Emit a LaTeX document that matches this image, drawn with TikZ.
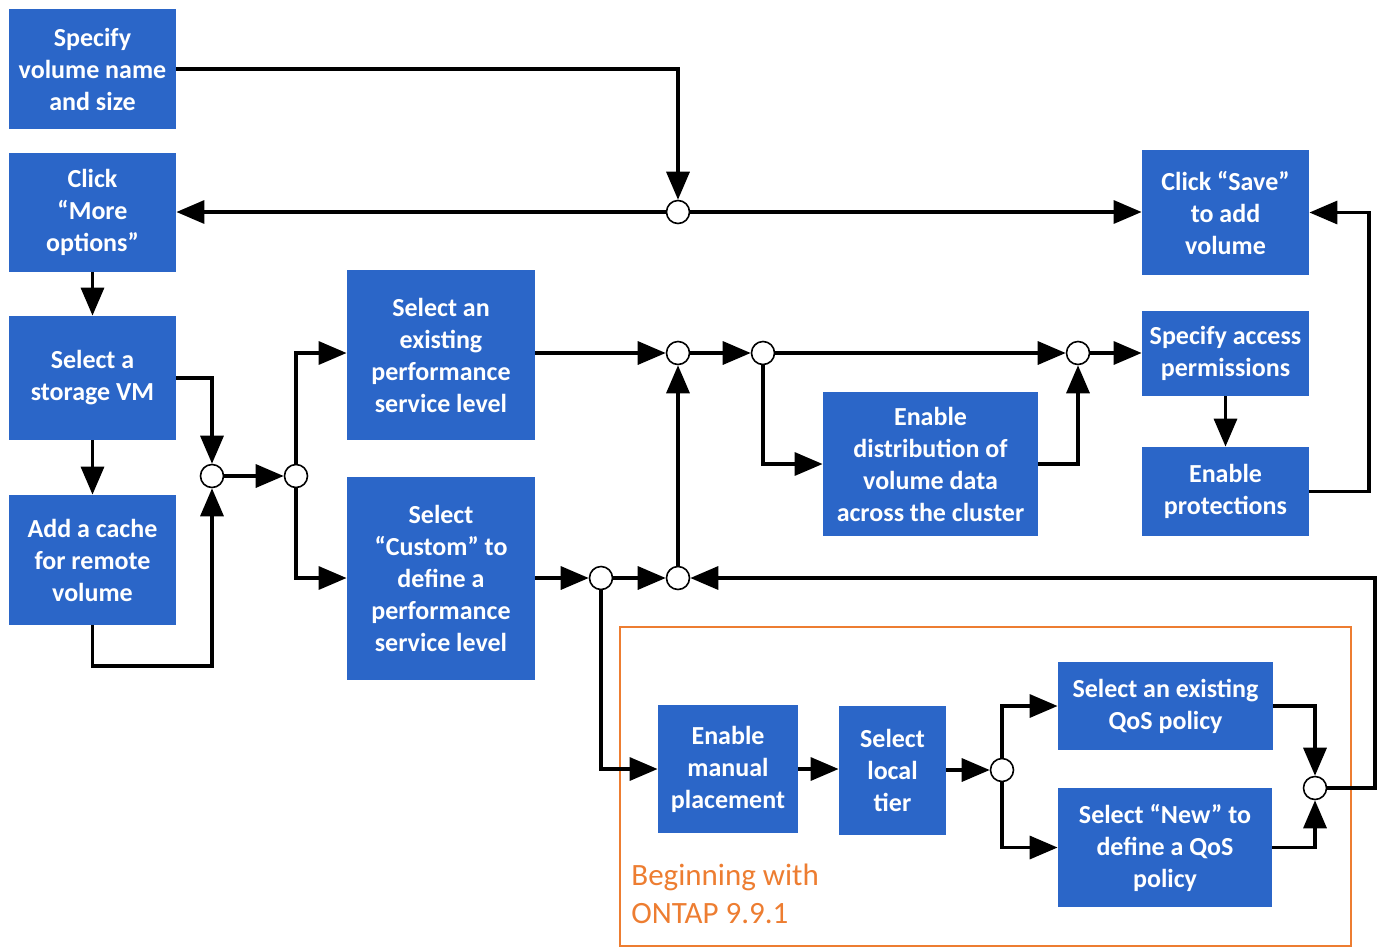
\documentclass[tikz,border=0pt]{standalone}
\usepackage{fontspec}
\setmainfont{Carlito}
\usetikzlibrary{arrows.meta}
\definecolor{boxblue}{RGB}{43,102,200}
\definecolor{ornge}{RGB}{237,125,49}
\tikzset{
  box/.style={fill=boxblue, draw=none, inner sep=0pt, text=white, align=center,
    font=\fontsize{13pt}{16pt}\selectfont\bfseries},
  jn/.style={circle, draw=black, line width=0.8pt, fill=white, minimum size=11.5pt, inner sep=0pt},
  conn/.style={line width=1.7pt, draw=black},
  arr/.style={conn, -{Triangle[length=14pt,width=11.5pt]}},
}
\begin{document}
\begin{tikzpicture}[x=0.5pt,y=-0.5pt]
\useasboundingbox (0,0) rectangle (1380,949);
% orange frame
\draw[ornge, line width=1.1pt] (620,627) rectangle (1351,946);
\node[text=ornge, font=\fontsize{15.5pt}{19pt}\selectfont, align=left, anchor=north west, inner sep=0pt]
  (ver) at (631,864) {Beginning with\\ONTAP 9.9.1};
% boxes
\node[box, minimum width=83.5pt, minimum height=60pt]   (B1)  at (92.5,69)    {Specify\\volume name\\and size};
\node[box, minimum width=83.5pt, minimum height=59.5pt] (B2)  at (92.5,212.5) {Click\\“More\\options”};
\node[box, minimum width=83.5pt, minimum height=62pt]   (B3)  at (92.5,378)   {Select a\\storage VM};
\node[box, minimum width=83.5pt, minimum height=65pt]   (B4)  at (92.5,560)   {Add a cache\\for remote\\volume};
\node[box, minimum width=94pt,   minimum height=85pt]   (B5)  at (441,355)    {Select an\\existing\\performance\\service level};
\node[box, minimum width=94pt,   minimum height=101.5pt](B6)  at (441,578.5)  {Select\\“Custom” to\\define a\\performance\\service level};
\node[box, minimum width=83.5pt, minimum height=62.5pt] (B7)  at (1225.5,212.5) {Click “Save”\\to add\\volume};
\node[box, minimum width=83.5pt, minimum height=42.5pt] (B8)  at (1225.5,353.5) {Specify access\\permissions};
\node[box, minimum width=83.5pt, minimum height=44.5pt] (B9)  at (1225.5,491.5) {Enable\\protections};
\node[box, minimum width=107.5pt,minimum height=72pt]   (B10) at (930.5,464)  {Enable\\distribution of\\volume data\\across the cluster};
\node[box, minimum width=70pt,   minimum height=64pt]   (B11) at (728,769)    {Enable\\manual\\placement};
\node[box, minimum width=53.5pt, minimum height=64.5pt] (B12) at (892.5,770.5) {Select\\local\\tier};
\node[box, minimum width=107.5pt,minimum height=44pt]   (B13) at (1165.5,706) {Select an existing\\QoS policy};
\node[box, minimum width=107pt,  minimum height=59.5pt] (B14) at (1165,847.5) {Select “New” to\\define a QoS\\policy};
% junctions
\node[jn] (J1)  at (678,212) {};
\node[jn] (J2)  at (212,476) {};
\node[jn] (J3)  at (296,476) {};
\node[jn] (J4)  at (678,353) {};
\node[jn] (J5)  at (763,353) {};
\node[jn] (J6)  at (1078,353) {};
\node[jn] (J7)  at (601,578) {};
\node[jn] (J8)  at (678,578) {};
\node[jn] (J9)  at (1002,770) {};
\node[jn] (J10) at (1315,788) {};
\coordinate (R1) at (1375,0);
\coordinate (R2) at (1369,0);
\coordinate (L1) at (0,666);
% connectors
\draw[arr] (B1.east) -| (J1);
\draw[arr] (J1) -- (J1 -| B2.east);
\draw[arr] (J1) -- (J1 -| B7.west);
\draw[arr] (B2.south) -- (B3.north);
\draw[arr] (B3.south) -- (B4.north);
\draw[arr] (B3.east) -| (J2);
\draw[arr] (B4.south) -- (B4.south |- L1) -| (J2);
\draw[arr] (J2) -- (J3);
\draw[arr] (J3) |- (B5.west |- J4);
\draw[arr] (J3) |- (B6.west |- J7);
\draw[arr] (B5.east |- J4) -- (J4);
\draw[arr] (J4) -- (J5);
\draw[arr] (J5) -- (J6);
\draw[arr] (J6) -- (J6 -| B8.west);
\draw[arr] (J5) |- (B10.west);
\draw[arr] (B10.east) -| (J6);
\draw[arr] (B6.east |- J7) -- (J7);
\draw[arr] (J7) -- (J8);
\draw[arr] (J8) -- (J4);
\draw[arr] (J7) |- (B11.west);
\draw[arr] (B11.east) -- (B11.east -| B12.west);
\draw[arr] (B12.east |- J9) -- (J9);
\draw[arr] (J9) |- (B13.west);
\draw[arr] (J9) |- (B14.west);
\draw[arr] (B13.east) -| (J10);
\draw[arr] (B14.east) -| (J10);
\draw[arr] (J10) -- (J10 -| R1) |- (J8);
\draw[arr] (B8.south) -- (B9.north);
\draw[arr] (B9.east) -- (B9.east -| R2) |- (B7.east);
\end{tikzpicture}
\end{document}
